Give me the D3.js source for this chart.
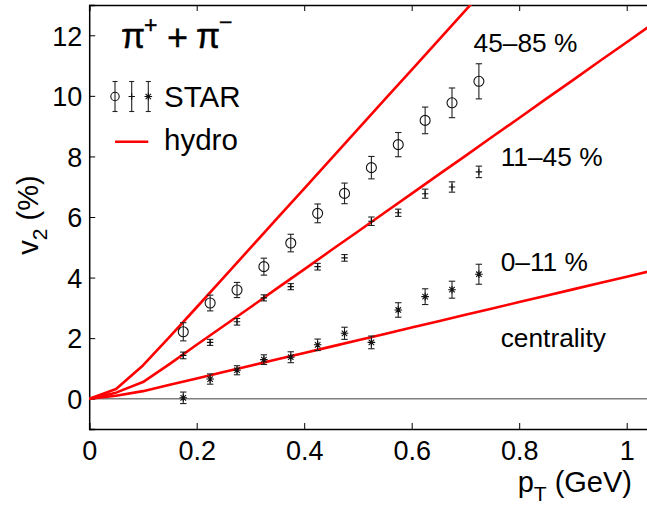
<!DOCTYPE html>
<html>
<head>
<meta charset="utf-8">
<script src="https://cdn.jsdelivr.net/npm/d3@7"></script>
<style>
  html, body { margin: 0; padding: 0; background: #fff; }
  svg { display: block; font-family: "Liberation Sans", Arial, Helvetica, sans-serif; }
</style>
</head>
<body>
<svg id="chart" width="647" height="506"></svg>
<script>
// ---------- data ----------
const xTicks = [0, 0.2, 0.4, 0.6, 0.8, 1];
const yTicks = [0, 2, 4, 6, 8, 10, 12];

const pT = [0.175, 0.225, 0.275, 0.325, 0.375, 0.425, 0.475, 0.525, 0.575, 0.625, 0.675, 0.725];

// STAR data, 45-85 % (circles)
const v2Per = [2.21, 3.16, 3.59, 4.36, 5.14, 6.12, 6.78, 7.63, 8.39, 9.19, 9.77, 10.48];
const errPer = [0.30, 0.26, 0.25, 0.28, 0.29, 0.31, 0.34, 0.37, 0.40, 0.44, 0.49, 0.58];
// STAR data, 11-45 % (plus)
const v2Mid = [1.43, 1.86, 2.54, 3.33, 3.70, 4.36, 4.65, 5.86, 6.14, 6.77, 6.99, 7.49];
const errMid = [0.11, 0.10, 0.11, 0.10, 0.10, 0.11, 0.11, 0.14, 0.12, 0.15, 0.17, 0.19];
// STAR data, 0-11 % (asterisks)
const v2Cen = [0.03, 0.65, 0.94, 1.29, 1.37, 1.78, 2.16, 1.86, 2.93, 3.37, 3.60, 4.11];
const errCen = [0.19, 0.17, 0.15, 0.16, 0.18, 0.19, 0.20, 0.21, 0.24, 0.26, 0.28, 0.33];

// hydro curves
const hydroPt = [0, 0.05, 0.1, 0.15, 0.2, 0.25, 0.3, 0.35, 0.4, 0.45, 0.5, 0.55, 0.6, 0.65, 0.7, 0.75, 0.8, 0.85, 0.9, 0.95, 1.0, 1.05];
const hydroPer = [0, 0.32, 1.1, 2.05, 3.02, 4.0, 4.98, 5.96, 6.94, 7.92, 8.9, 9.88, 10.86, 11.84, 12.82, 13.8, 14.78, 15.76, 16.74, 17.72, 18.7, 19.68];
const hydroMid = [0, 0.2, 0.55, 1.15, 1.78, 2.4, 3.02, 3.65, 4.27, 4.9, 5.52, 6.15, 6.77, 7.4, 8.02, 8.65, 9.27, 9.9, 10.52, 11.15, 11.77, 12.4];
const hydroCen = [0, 0.1, 0.25, 0.46, 0.67, 0.88, 1.09, 1.30, 1.51, 1.72, 1.93, 2.14, 2.35, 2.56, 2.77, 2.98, 3.19, 3.40, 3.61, 3.82, 4.03, 4.24];

const centralityLabels = ["45\u201385 %", "11\u201345 %", "0\u201311 %", "centrality"];

// ---------- layout ----------
const svg = d3.select("#chart");
const L = 89.2, T = 5, B = 429;
const x = d3.scaleLinear().domain([0, 1.05]).range([L, L + 1.05 * 537.5]);
const y = d3.scaleLinear().domain([-1, 13]).range([B, T]);
const R = x(1.05);

svg.append("defs").append("clipPath").attr("id", "clip")
  .append("rect").attr("x", L).attr("y", T).attr("width", R - L).attr("height", B - T);

// zero line
svg.append("line")
  .attr("x1", L).attr("x2", R).attr("y1", y(0)).attr("y2", y(0))
  .attr("stroke", "#7f7f7f").attr("stroke-width", 1.5);

// axes (ticks inward)
const fs = 27;
const xAxis = d3.axisBottom(x).tickValues(xTicks).tickSize(-6).tickPadding(12)
  .tickFormat(d => d === 0 ? "0" : (d === 1 ? "1" : d3.format(".1f")(d)));
const gx = svg.append("g").attr("transform", `translate(0,${B})`).call(xAxis);
const xTop = d3.axisTop(x).tickValues(xTicks).tickSize(-6).tickFormat("");
const gxt = svg.append("g").attr("transform", `translate(0,${T})`).call(xTop);
const yAxis = d3.axisLeft(y).tickValues(yTicks).tickSize(-6).tickPadding(7);
const gy = svg.append("g").attr("transform", `translate(${L},0)`).call(yAxis);
const yRight = d3.axisRight(y).tickValues(yTicks).tickSize(-6).tickFormat("");
const gyr = svg.append("g").attr("transform", `translate(${R},0)`).call(yRight);

[gx, gxt, gy, gyr].forEach(g => {
  g.select(".domain").attr("stroke", "#000").attr("stroke-width", 1.5);
  g.selectAll(".tick line").attr("stroke", "#000").attr("stroke-width", 1);
  g.selectAll(".tick text").attr("fill", "#000").attr("font-size", fs)
    .attr("font-family", "Liberation Sans, Arial, sans-serif");
});
gy.selectAll(".tick text").attr("dy", "0.36em");

// hydro lines
const plot = svg.append("g").attr("clip-path", "url(#clip)");
const line = d3.line().x(d => x(d[0])).y(d => y(d[1]));
[hydroPer, hydroMid, hydroCen].forEach(arr => {
  plot.append("path")
    .datum(hydroPt.map((p, i) => [p, arr[i]]))
    .attr("d", line)
    .attr("fill", "none").attr("stroke", "#ff0000").attr("stroke-width", 2.6)
    .attr("stroke-linejoin", "round");
});

// error bars + markers
function errBars(g, vals, errs) {
  const cw = 3.2;
  pT.forEach((p, i) => {
    const cx = x(p), y1 = y(vals[i] + errs[i]), y2 = y(vals[i] - errs[i]);
    g.append("line").attr("x1", cx).attr("x2", cx).attr("y1", y1).attr("y2", y2)
      .attr("stroke", "#222").attr("stroke-width", 1.1);
    [y1, y2].forEach(yy => g.append("line").attr("x1", cx - cw).attr("x2", cx + cw)
      .attr("y1", yy).attr("y2", yy).attr("stroke", "#222").attr("stroke-width", 1.1));
  });
}
const dataG = svg.append("g");
errBars(dataG, v2Per, errPer);
errBars(dataG, v2Mid, errMid);
errBars(dataG, v2Cen, errCen);

function circleMark(g, cx, cy, r) {
  g.append("circle").attr("cx", cx).attr("cy", cy).attr("r", r || 5)
    .attr("fill", "none").attr("stroke", "#111").attr("stroke-width", 1.1);
}
function plusMark(g, cx, cy) {
  const s = 3.2;
  g.append("path").attr("d", `M${cx - s},${cy}H${cx + s}M${cx},${cy - s}V${cy + s}`)
    .attr("stroke", "#111").attr("stroke-width", 1.1);
}
function starMark(g, cx, cy) {
  const s = 3.8, d = s * 0.72;
  g.append("path").attr("d",
    `M${cx - s},${cy}H${cx + s}M${cx},${cy - s}V${cy + s}M${cx - d},${cy - d}L${cx + d},${cy + d}M${cx - d},${cy + d}L${cx + d},${cy - d}`)
    .attr("stroke", "#111").attr("stroke-width", 1.1);
}
pT.forEach((p, i) => {
  circleMark(dataG, x(p), y(v2Per[i]));
  plusMark(dataG, x(p), y(v2Mid[i]));
  starMark(dataG, x(p), y(v2Cen[i]));
});

// centrality labels
const labPos = [[473.5, 51.7], [500.7, 165.7], [500.7, 270.7], [500.7, 346.5]];
centralityLabels.forEach((t, i) => {
  svg.append("text").attr("x", labPos[i][0]).attr("y", labPos[i][1])
    .attr("font-size", 26.3).attr("fill", "#000").text(t);
});

// title pi+ + pi-
const tg = svg.append("g").attr("fill", "#000").attr("stroke", "#000").attr("stroke-width", 0.4);
tg.append("text").attr("x", 121).attr("y", 48).attr("font-size", 35).text("\u03c0");
tg.append("text").attr("x", 144).attr("y", 32.5).attr("font-size", 23).text("+");
tg.append("text").attr("x", 167).attr("y", 50).attr("font-size", 36).text("+");
tg.append("text").attr("x", 196).attr("y", 48).attr("font-size", 35).text("\u03c0");
tg.append("text").attr("x", 219).attr("y", 30).attr("font-size", 23).text("\u2212");

// legend
const lg = svg.append("g");
const ly = 96.5;
[115, 131.7, 148.3].forEach((lx, k) => {
  lg.append("line").attr("x1", lx).attr("x2", lx).attr("y1", ly - 15).attr("y2", ly + 15)
    .attr("stroke", "#222").attr("stroke-width", 1.1);
  [ly - 15, ly + 15].forEach(yy => lg.append("line").attr("x1", lx - 2.5).attr("x2", lx + 2.5)
    .attr("y1", yy).attr("y2", yy).attr("stroke", "#222").attr("stroke-width", 1.1));
  if (k === 0) circleMark(lg, lx, ly, 4.2);
  if (k === 1) plusMark(lg, lx, ly);
  if (k === 2) starMark(lg, lx, ly);
});
lg.append("text").attr("x", 164).attr("y", 106.7).attr("font-size", 29.5).attr("fill", "#000").text("STAR");
lg.append("line").attr("x1", 115).attr("x2", 148.3).attr("y1", 141.7).attr("y2", 141.7)
  .attr("stroke", "#ff0000").attr("stroke-width", 2.6);
lg.append("text").attr("x", 164).attr("y", 150).attr("font-size", 29.5).attr("fill", "#000").text("hydro");

// axis labels
const xl = svg.append("text").attr("x", 632).attr("y", 492).attr("text-anchor", "end")
  .attr("font-size", 29).attr("fill", "#000");
xl.append("tspan").text("p");
xl.append("tspan").attr("font-size", 21).attr("dy", 9).text("T");
xl.append("tspan").attr("dy", -9).text(" (GeV)");

const yl = svg.append("text").attr("transform", "translate(38,215) rotate(-90)")
  .attr("text-anchor", "middle").attr("font-size", 29).attr("fill", "#000");
yl.append("tspan").text("v");
yl.append("tspan").attr("font-size", 21).attr("dy", 9).text("2");
yl.append("tspan").attr("dy", -9).text(" (%)");
</script>
</body>
</html>
